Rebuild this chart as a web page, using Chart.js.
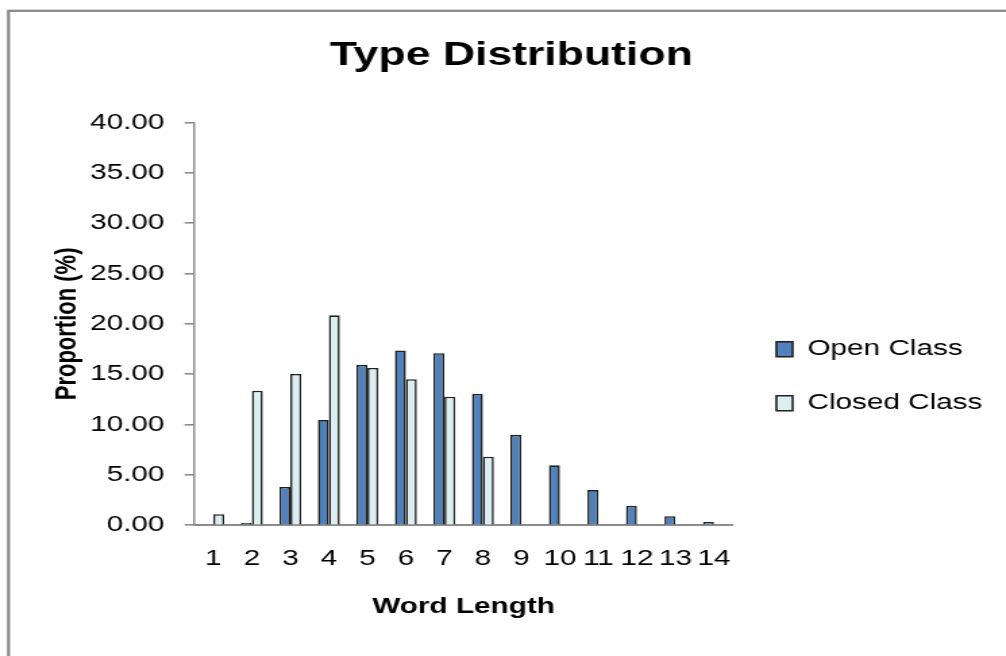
<!DOCTYPE html>
<html>
<head>
<meta charset="utf-8">
<script src="https://cdn.jsdelivr.net/npm/chart.js@4/dist/chart.umd.min.js"></script>
<style>
  html, body { margin: 0; padding: 0; background: #fff; overflow: hidden; }
  /* the original picture is stretched sideways, so draw narrow and widen it */
  #wrap { width: 745px; height: 656px; transform: scaleX(1.3503); transform-origin: 0 0; }
</style>
</head>
<body>
<div id="wrap"><canvas id="chart" width="745" height="656"></canvas></div>
<script>
// word lengths
const wordLengths = ['1','2','3','4','5','6','7','8','9','10','11','12','13','14'];
// proportions (%)
const openClass = [0, 0.23, 3.8, 10.44, 15.93, 17.36, 17.09, 13.04, 8.98, 5.95, 3.49, 1.93, 0.9, 0.33];
const closedClass = [1.1, 13.37, 15.03, 20.85, 15.63, 14.5, 12.77, 6.81, 0, 0, 0, 0, 0, 0];
const yTicks = [0, 5, 10, 15, 20, 25, 30, 35, 40];

const font = 'Arial, "Liberation Sans", sans-serif';

// grey frame around the whole chart
const frame = {
  id: 'frame',
  beforeDraw(chart) {
    const ctx = chart.ctx;
    ctx.save();
    ctx.strokeStyle = '#868686';
    ctx.lineWidth = 2.2;
    ctx.strokeRect(6.3, 10.8, 800, 700);
    ctx.restore();
  }
};

new Chart(document.getElementById('chart'), {
  type: 'bar',
  data: {
    labels: wordLengths,
    datasets: [{
      label: 'Open Class',
      data: openClass,
      backgroundColor: '#4f81bd',
      borderColor: '#202020',
      borderWidth: 1.6
    }, {
      label: 'Closed Class',
      data: closedClass,
      backgroundColor: '#dbeef4',
      borderColor: '#202020',
      borderWidth: 1.6
    }]
  },
  options: {
    responsive: false,
    animation: false,
    categoryPercentage: 0.57,
    barPercentage: 1,
    layout: { padding: { left: 19.6, right: 7.4, top: 36, bottom: 36 } },
    plugins: {
      title: {
        display: true,
        text: 'Type Distribution',
        color: '#000',
        font: { family: font, size: 33, weight: 'bold' },
        padding: { top: 0, bottom: 47 }
      },
      legend: {
        position: 'right',
        maxWidth: 260,
        // empty title only pushes the two items down to where they sit in the original
        title: { display: true, text: '', padding: { top: 0, bottom: 82 } },
        labels: {
          color: '#000',
          font: { family: font, size: 22 },
          boxWidth: 12,
          boxHeight: 15,
          padding: 32
        }
      },
      tooltip: { enabled: false }
    },
    scales: {
      x: {
        grid: { display: false, drawTicks: false },
        border: { color: '#8c8c8c', width: 2 },
        ticks: { color: '#000', font: { family: font, size: 22 }, padding: 21, maxRotation: 0, autoSkip: false },
        title: {
          display: true,
          text: 'Word Length',
          color: '#000',
          font: { family: font, size: 22, weight: 'bold' },
          padding: { top: 0, bottom: 0 }
        }
      },
      y: {
        min: 0,
        max: 40,
        afterBuildTicks(axis) { axis.ticks = yTicks.map(v => ({ value: v })); },
        grid: { drawOnChartArea: false, drawTicks: true, tickLength: 7, color: '#8c8c8c', lineWidth: 1.6 },
        border: { color: '#8c8c8c', width: 1.5 },
        ticks: {
          color: '#000',
          font: { family: font, size: 22 },
          padding: 15,
          callback: v => v.toFixed(2)
        },
        title: {
          display: true,
          text: 'Proportion (%)',
          color: '#000',
          font: { family: font, size: 22, weight: 'bold', lineHeight: 0.13 },
          padding: { top: 29.2, bottom: 0 }
        }
      }
    }
  },
  plugins: [frame]
});
</script>
</body>
</html>
